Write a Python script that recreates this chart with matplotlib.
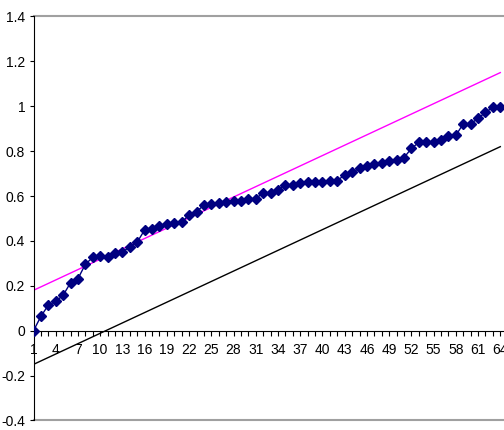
import matplotlib
matplotlib.use("Agg")
import matplotlib.pyplot as plt
from matplotlib.ticker import FixedLocator, FuncFormatter

plt.rcParams["font.family"] = ["Liberation Sans Narrow", "Liberation Sans", "DejaVu Sans"]

# observed values, categories 1..64
cats = list(range(1, 65))
values = [
    0.000, 0.064, 0.114, 0.131, 0.158, 0.214, 0.232, 0.296, 0.327, 0.331,
    0.329, 0.346, 0.351, 0.373, 0.395, 0.449, 0.454, 0.468, 0.475, 0.481,
    0.483, 0.517, 0.530, 0.560, 0.566, 0.569, 0.573, 0.576, 0.578, 0.585,
    0.588, 0.615, 0.615, 0.627, 0.649, 0.650, 0.659, 0.661, 0.661, 0.661,
    0.668, 0.668, 0.695, 0.707, 0.723, 0.735, 0.741, 0.748, 0.758, 0.759,
    0.771, 0.812, 0.839, 0.839, 0.842, 0.849, 0.869, 0.870, 0.922, 0.922,
    0.946, 0.973, 0.995, 0.998,
]
# straight reference lines: value at first and last category
upper_ends = [0.18, 1.15]
lower_ends = [-0.15, 0.82]
line_x = [cats[0], cats[-1]]

fig = plt.figure(figsize=(5.04, 4.30), dpi=100)
ax = fig.add_axes([33.5 / 504, 1 - 420.5 / 430, 1 - 33.5 / 504, (420.5 - 16.5) / 430])

ax.plot(line_x, upper_ends, color="#FF00FF", lw=1.0, zorder=2)
ax.plot(line_x, lower_ends, color="black", lw=1.0, zorder=2)
ax.plot(cats, values, color="#000080", lw=1.0, marker="D", markersize=5.5,
        markerfacecolor="#000080", markeredgecolor="#000080", zorder=3)

ax.set_xlim(1, 64.5)
ax.set_ylim(-0.4, 1.4)

for s in ["top", "right"]:
    ax.spines[s].set_visible(False)
ax.spines["left"].set_color("black")
ax.spines["bottom"].set_position(("data", 0))
ax.spines["bottom"].set_color("black")
ax.axhline(1.4, color="#a0a0a0", lw=1.5, clip_on=False, zorder=1)
ax.axhline(-0.4, color="#a0a0a0", lw=1.5, clip_on=False, zorder=1)

ax.xaxis.set_major_locator(FixedLocator(cats))
ax.set_xticklabels([str(c) if (c - 1) % 3 == 0 else "" for c in cats])
ax.set_yticks([-0.4, -0.2, 0, 0.2, 0.4, 0.6, 0.8, 1.0, 1.2, 1.4])
ax.yaxis.set_major_formatter(FuncFormatter(lambda v, p: f"{v:g}"))
ax.tick_params(axis="x", direction="out", length=3.5, width=0.8, pad=5, labelsize=10)
ax.tick_params(axis="y", direction="out", length=3, width=0.8, pad=3, labelsize=10)

fig.savefig("out.png", dpi=100)
